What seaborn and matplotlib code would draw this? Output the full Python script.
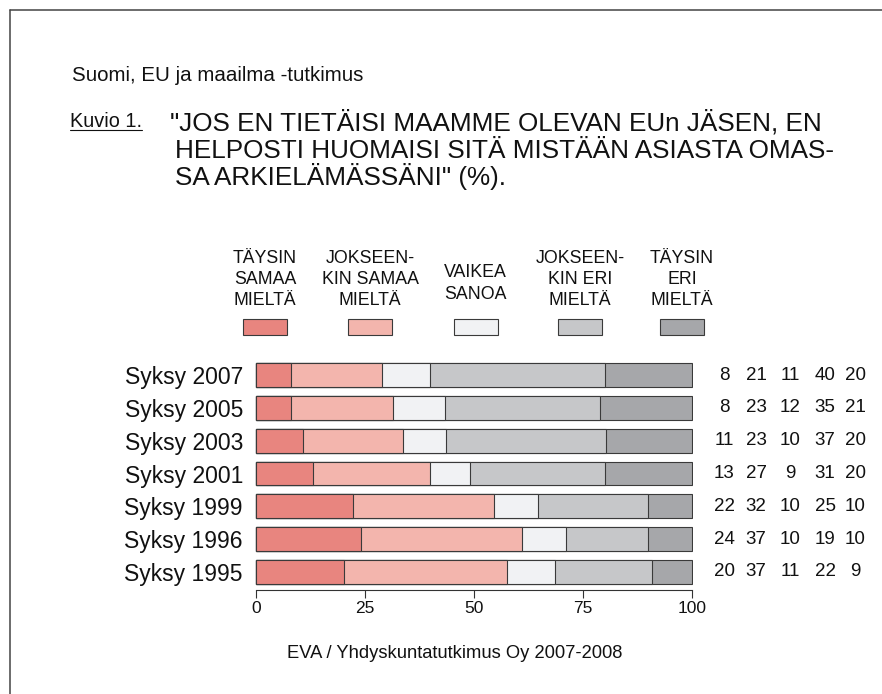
import matplotlib

matplotlib.use("Agg")
import matplotlib.pyplot as plt
import numpy as np
import pandas as pd
import seaborn as sns
from matplotlib import font_manager
from matplotlib.lines import Line2D
from matplotlib.patches import Rectangle

# --- data -------------------------------------------------------------
periods = ["Syksy 2007", "Syksy 2005", "Syksy 2003", "Syksy 2001",
           "Syksy 1999", "Syksy 1996", "Syksy 1995"]
categories = ["TÄYSIN\nSAMAA\nMIELTÄ", "JOKSEEN-\nKIN SAMAA\nMIELTÄ", "VAIKEA\nSANOA",
              "JOKSEEN-\nKIN ERI\nMIELTÄ", "TÄYSIN\nERI\nMIELTÄ"]
taysin_samaa = [8, 8, 11, 13, 22, 24, 20]
jokseenkin_samaa = [21, 23, 23, 27, 32, 37, 37]
vaikea_sanoa = [11, 12, 10, 9, 10, 10, 11]
jokseenkin_eri = [40, 35, 37, 31, 25, 19, 22]
taysin_eri = [20, 21, 20, 20, 10, 10, 9]
colors = ["#E8857F", "#F3B5AD", "#F1F2F4", "#C6C7C9", "#A6A7AA"]
x_ticks = [0, 25, 50, 75, 100]

title_small = "Suomi, EU ja maailma -tutkimus"
fig_label = "Kuvio 1."
title_lines = ['"JOS EN TIETÄISI MAAMME OLEVAN EUn JÄSEN, EN',
               'HELPOSTI HUOMAISI SITÄ MISTÄÄN ASIASTA OMAS-',
               'SA ARKIELÄMÄSSÄNI" (%).']
source = "EVA / Yhdyskuntatutkimus Oy 2007-2008"

W, H = 882, 694
installed = {f.name for f in font_manager.fontManager.ttflist}
base_font = "Liberation Sans" if "Liberation Sans" in installed else "DejaVu Sans"
narrow_font = "Liberation Sans Narrow" if "Liberation Sans Narrow" in installed else base_font

sns.set_theme(style="white")
plt.rcParams["font.family"] = [base_font, "DejaVu Sans"]

df = pd.DataFrame({"period": periods, "c1": taysin_samaa, "c2": jokseenkin_samaa,
                   "c3": vaikea_sanoa, "c4": jokseenkin_eri, "c5": taysin_eri})
vals = df[["c1", "c2", "c3", "c4", "c5"]].to_numpy(dtype=float)
cum = np.cumsum(vals, axis=1) / vals.sum(axis=1, keepdims=True) * 100

fig = plt.figure(figsize=(W / 100, H / 100), dpi=100)


def fx(px):
    return px / W


def fy(py):
    return 1 - py / H


# axes: x 0..100 spans 256..692 px, bars centred 375..572 px
x0, x1 = -0.3, 100.3
ppu = (692 - 256) / 100
ax_left = 256 + x0 * ppu
ax_w = (x1 - x0) * ppu
ax_top, ax_bot = 357, 590
ax = fig.add_axes([fx(ax_left), fy(ax_bot), ax_w / W, (ax_bot - ax_top) / H])

for k in range(4, -1, -1):
    sns.barplot(x=cum[:, k], y=df["period"], orient="h", color=colors[k],
                edgecolor="#3a3a3a", linewidth=0.8, width=0.73, saturation=1,
                ax=ax, zorder=2 + (4 - k))

ax.set_xlim(x0, x1)
ax.set_ylim(6.55, -0.55)
ax.set_xlabel("")
ax.set_ylabel("")
for s in ["top", "right", "left"]:
    ax.spines[s].set_visible(False)
ax.spines["bottom"].set_bounds(0, 100)
ax.spines["bottom"].set_color("#333333")
ax.spines["bottom"].set_linewidth(0.8)
ax.set_xticks(x_ticks)
ax.set_xticklabels([str(t) for t in x_ticks])
ax.tick_params(axis="x", bottom=True, direction="out", length=6, width=0.8,
               color="#333333", pad=2, labelsize=12.5, labelcolor="#111111")
ax.tick_params(axis="y", left=False, length=0, pad=8.5, labelsize=16.5,
               labelcolor="#111111")
ax.grid(False)

# value columns on the right
col_px = [724, 756, 790, 825, 855]
for i in range(len(periods)):
    for k, px in enumerate(col_px):
        ax.text((px - 256) / ppu, i, f"{int(vals[i, k])}", ha="center", va="center",
                fontsize=13.5, color="#111111", clip_on=False)

# legend
leg_px = [265, 370, 475.5, 580, 682]
for k, (label, cx) in enumerate(zip(categories, leg_px)):
    fig.add_artist(Rectangle((fx(cx - 22), fy(335)), 44 / W, 16 / H,
                             facecolor=colors[k], edgecolor="#3a3a3a", linewidth=0.8,
                             transform=fig.transFigure))
    lines = label.split("\n")
    baselines = [263, 284, 305] if len(lines) == 3 else [277, 299]
    for line, b in zip(lines, baselines):
        fig.text(fx(cx), fy(b), line, ha="center", va="baseline", fontsize=12.8,
                 family=[narrow_font, "DejaVu Sans"], color="#111111")

# titles
fig.text(fx(72), fy(81), title_small, ha="left", va="baseline", fontsize=14.8,
         color="#111111")
kt = fig.text(fx(70), fy(127), fig_label, ha="left", va="baseline", fontsize=14.3,
              color="#111111")
fig.canvas.draw()
bb = kt.get_window_extent(fig.canvas.get_renderer())
fig.add_artist(Line2D([bb.x0 / W, bb.x1 / W], [fy(129.5), fy(129.5)], color="#111111",
                      linewidth=0.8, transform=fig.transFigure))
title_x = [170, 175, 175]
title_base = [130, 157.5, 185]
for line, tx, tb in zip(title_lines, title_x, title_base):
    fig.text(fx(tx), fy(tb), line, ha="left", va="baseline", fontsize=18.8,
             color="#111111")

fig.text(fx(455), fy(654), source, ha="center", va="center", fontsize=13.2,
         color="#111111")

# page frame
fig.add_artist(Line2D([fx(9.5), fx(9.5)], [fy(9.5), 0], color="#444444", linewidth=1.1,
                      transform=fig.transFigure))
fig.add_artist(Line2D([fx(9.5), 1], [fy(9.5), fy(9.5)], color="#444444", linewidth=1.1,
                      transform=fig.transFigure))

fig.savefig("out.png", dpi=100)
